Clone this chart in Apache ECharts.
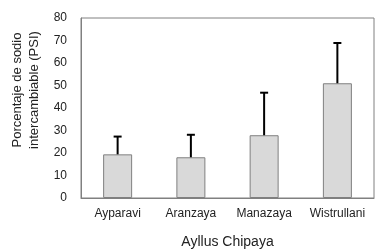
<!DOCTYPE html>
<html><head><meta charset="utf-8">
<script src="https://cdn.jsdelivr.net/npm/echarts@6/dist/echarts.min.js"></script>
<style>html,body{margin:0;padding:0;background:#fff}#c{width:392px;height:251px}</style>
</head><body><div id="c"></div>
<script>
var categories = ['Ayparavi', 'Aranzaya', 'Manazaya', 'Wistrullani'];
var means = [19.4, 18.1, 27.9, 51.0];
var upper = [27.3, 28.1, 46.8, 68.9];
var yTicks = [0, 10, 20, 30, 40, 50, 60, 70, 80];

var chart = echarts.init(document.getElementById('c'));
var font = 'Liberation Sans, Arial, sans-serif';
chart.setOption({
  animation: false,
  grid: {left: 81, top: 18, width: 293, height: 180, show: true, borderColor: '#808080', borderWidth: 1, backgroundColor: 'transparent', containLabel: false, outerBoundsMode: 'none'},
  xAxis: {
    type: 'category', data: categories,
    axisLine: {lineStyle: {color: '#808080'}},
    axisTick: {show: false},
    axisLabel: {color: '#222', fontSize: 12, fontFamily: font, margin: 10, interval: 0},
    name: 'Ayllus Chipaya', nameLocation: 'middle', nameGap: 37,
    nameTextStyle: {color: '#222', fontSize: 14, fontFamily: font}
  },
  yAxis: {
    type: 'value', min: yTicks[0], max: yTicks[yTicks.length-1], interval: 10,
    axisLine: {show: true, lineStyle: {color: '#808080'}},
    axisTick: {show: false},
    splitLine: {show: false},
    axisLabel: {color: '#222', fontSize: 12, fontFamily: font, margin: 14},
    name: 'Porcentaje de sodio\nintercambiable (PSI)', nameLocation: 'middle', nameGap: 38,
    nameRotate: 90,
    nameTextStyle: {color: '#222', fontSize: 13, fontFamily: font, lineHeight: 17, padding: [0, 0, 0, 36]}
  },
  series: [{
    type: 'bar', data: means, barWidth: 29,
    itemStyle: {color: '#d9d9d9', borderColor: '#808080', borderWidth: 1}
  }, {
    type: 'custom', data: categories.map(function(c, i){ return [i, means[i], upper[i]]; }),
    renderItem: function(params, api){
      var x = api.value(0);
      var p0 = api.coord([x, api.value(1)]);
      var p1 = api.coord([x, api.value(2)]);
      var hw = 4;
      return {type: 'group', children: [
        {type: 'line', shape: {x1: p0[0], y1: p0[1], x2: p1[0], y2: p1[1]}, style: {stroke: '#000', lineWidth: 2}},
        {type: 'line', shape: {x1: p1[0]-hw, y1: p1[1], x2: p1[0]+hw, y2: p1[1]}, style: {stroke: '#000', lineWidth: 2}}
      ]};
    },
    z: 3
  }]
});
</script></body></html>
